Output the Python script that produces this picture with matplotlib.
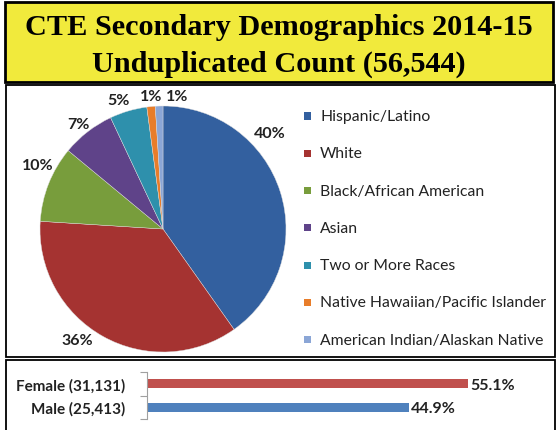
import matplotlib
matplotlib.use("Agg")
import matplotlib.pyplot as plt
from matplotlib.patches import Rectangle

title_lines = ["CTE Secondary Demographics 2014-15", "Unduplicated Count (56,544)"]
categories = ["Hispanic/Latino", "White", "Black/African American", "Asian",
              "Two or More Races", "Native Hawaiian/Pacific Islander",
              "American Indian/Alaskan Native"]
shares = [40.2, 35.8, 10.0, 7.0, 4.9, 1.1, 1.0]
share_labels = ["40%", "36%", "10%", "7%", "5%", "1%", "1%"]
pie_colors = ["#33609F", "#A53331", "#789D3C", "#5F4389", "#2E90AC", "#E87D2A", "#8BA6D6"]

gender_labels = ["Male (25,413)", "Female (31,131)"]
gender_pct = [44.9, 55.1]
gender_pct_labels = ["44.9%", "55.1%"]
gender_colors = ["#4F81BD", "#C0504D"]

W, H = 558, 431
fig = plt.figure(figsize=(W / 100, H / 100), dpi=100)
fig.patch.set_facecolor("white")

def fx(px):
    return px / W

def fy(py):
    return 1 - py / H

# Title box
fig.patches.append(Rectangle((fx(5), fy(83)), fx(548), 80 / H, transform=fig.transFigure,
                             facecolor="#F1EA3C", edgecolor="black", linewidth=2, zorder=-2))
fig.text(fx(279), fy(28), title_lines[0], ha="center", va="center",
         family="Liberation Serif", weight="bold", fontsize=21.8)
fig.text(fx(279), fy(64), title_lines[1], ha="center", va="center",
         family="Liberation Serif", weight="bold", fontsize=21.8)

# Pie panel box
fig.patches.append(Rectangle((fx(6), fy(358)), fx(549), 272 / H, transform=fig.transFigure,
                             facecolor="white", edgecolor="black", linewidth=1.3, zorder=-2))
# Bar panel box
fig.patches.append(Rectangle((fx(6), fy(432)), fx(549), 71 / H, transform=fig.transFigure,
                             facecolor="white", edgecolor="black", linewidth=1.3, zorder=-2))

# Pie
r = 123
cx, cy = 163, 230
ax = fig.add_axes([fx(cx - r), fy(cy + r), fx(2 * r), 2 * r / H])
wedges, _ = ax.pie(shares, colors=pie_colors, startangle=90, counterclock=False,
                   wedgeprops=dict(linewidth=0.3, edgecolor="#DDDDDD"))
ax.set_aspect("equal")
ax.set_xlim(-1, 1)
ax.set_ylim(-1, 1)
ax.axis("off")

# percent labels
label_pos = [(270, 134), (77, 341), (38, 166), (78, 125), (119, 101), (151, 97), (177, 97)]
for (px, py), t in zip(label_pos, share_labels):
    fig.text(fx(px), fy(py), t, ha="center", va="center", family="Lato",
             weight="bold", fontsize=11.5, color="#222222")

# legend
leg_y0, leg_dy = 117, 37.3
for i, (c, col) in enumerate(zip(categories, pie_colors)):
    y = leg_y0 + i * leg_dy
    fig.patches.append(Rectangle((fx(304), fy(y + 3.5)), fx(7), 7 / H, transform=fig.transFigure,
                                 facecolor=col, edgecolor="none", zorder=1))
    fig.text(fx(320), fy(y), c, ha="left", va="center", family="Lato",
             fontsize=11.3, color="#222222")

# Bar chart
bx0, bx1 = 147, 555
bax = fig.add_axes([fx(bx0), fy(420), fx(bx1 - bx0), 47 / H])
bax.set_xlim(0, (bx1 - bx0) / 5.83)
bax.set_ylim(-0.5, 1.5)
bars = bax.barh([0, 1], gender_pct, height=0.4, color=gender_colors)
for i, (v, t) in enumerate(zip(gender_pct, gender_pct_labels)):
    bax.text(v + 0.3, i - 0.05, t, ha="left", va="center", family="Lato",
             weight="bold", fontsize=11.5, color="#222222")
bax.set_yticks([0, 1])
bax.set_yticklabels(gender_labels, family="Lato", weight="bold", fontsize=11, color="#222222")
bax.set_yticks([-0.5, 0.5, 1.5], minor=True)
bax.tick_params(axis="y", which="major", length=0, pad=16)
bax.tick_params(axis="y", which="minor", length=5, color="#A0A0A0", width=0.8)
bax.set_xticks([])
for s in ["top", "right", "bottom"]:
    bax.spines[s].set_visible(False)
bax.spines["left"].set_color("#A0A0A0")
bax.spines["left"].set_linewidth(0.8)
bax.patch.set_alpha(0)

fig.savefig("out.png", dpi=100)
